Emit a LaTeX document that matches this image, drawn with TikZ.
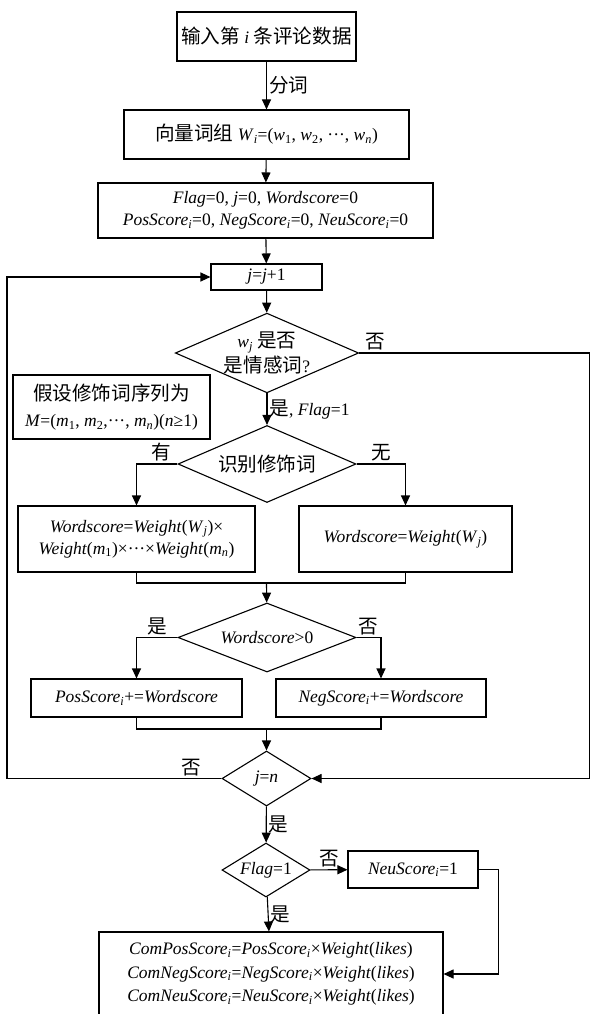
\documentclass[tikz,border=0pt]{standalone}
\usepackage{fontspec}
\setmainfont{Liberation Serif}
\newfontfamily\cjk[Scale=1.12]{Noto Sans CJK SC}
\usetikzlibrary{shapes.geometric,arrows.meta}
\newcommand\sub[1]{\textsubscript{#1}}
\begin{document}
\begin{tikzpicture}[x=1pt,y=-1pt,>={Triangle[length=10pt,width=9pt]},line width=1.1pt,
	every node/.style={font=\fontsize{17.5}{22}\selectfont},
	box/.style={draw,rectangle,align=center,inner sep=0pt},
	cond/.style={draw,diamond,align=center,inner sep=0pt},
	lbl/.style={inner sep=2pt}]
	\useasboundingbox (0,0) rectangle (591,1014);
	% boxes
	\node[box,minimum width=179,minimum height=49] (input) at (266.5,36.5) {{\cjk 输入第} \textit{i} {\cjk 条评论数据}};
	\node[box,minimum width=285,minimum height=49] (vec) at (266.5,134.5) {{\cjk 向量词组} \textit{W}\sub{\textit{i}}=(\textit{w}\sub{1}, \textit{w}\sub{2}, ···, \textit{w}\sub{\textit{n}})};
	\node[box,minimum width=335,minimum height=55] (init) at (265.5,210.5) {\textit{Flag}=0, \textit{j}=0, \textit{Wordscore}=0\\\textit{PosScore}\sub{\textit{i}}=0, \textit{NegScore}\sub{\textit{i}}=0, \textit{NeuScore}\sub{\textit{i}}=0};
	\node[box,minimum width=111,minimum height=26] (inc) at (266.5,277) {\textit{j}=\textit{j}+1};
	\node[cond,aspect=2.3,minimum width=178,minimum height=76,font=\fontsize{17.5}{25}\selectfont] (senti) at (267,353) {\textit{w}\sub{\textit{j}} {\cjk 是否}\\{\cjk 是情感词}?};
	\node[box,minimum width=197,minimum height=64,font=\fontsize{17.5}{26}\selectfont] (note) at (111.5,407) {{\cjk 假设修饰词序列为}\\\textit{M}=(\textit{m}\sub{1}, \textit{m}\sub{2},···, \textit{m}\sub{\textit{n}})(\textit{n}≥1)};
	\node[cond,aspect=2.3,minimum width=178,minimum height=77] (mod) at (267,464) {{\cjk 识别修饰词}};
	\node[box,minimum width=237,minimum height=66] (wmod) at (136.5,539) {\textit{Wordscore}=\textit{Weight}(\textit{W}\sub{\textit{j}})×\\\textit{Weight}(\textit{m}\sub{1})×···×\textit{Weight}(\textit{m}\sub{\textit{n}})};
	\node[box,minimum width=213,minimum height=66] (wnomod) at (405.5,539) {\textit{Wordscore}=\textit{Weight}(\textit{W}\sub{\textit{j}})};
	\node[cond,aspect=2.5,minimum width=178,minimum height=69] (sign) at (267,637.5) {\textit{Wordscore}>0};
	\node[box,minimum width=211,minimum height=38] (pos) at (136.5,698) {\textit{PosScore}\sub{\textit{i}}+=\textit{Wordscore}};
	\node[box,minimum width=210,minimum height=38] (neg) at (381,698) {\textit{NegScore}\sub{\textit{i}}+=\textit{Wordscore}};
	\node[cond,aspect=1.6,minimum width=89,minimum height=55] (last) at (266.5,778.5) {\textit{j}=\textit{n}};
	\node[cond,aspect=1.6,minimum width=88,minimum height=54] (flag) at (266,870) {\textit{Flag}=1};
	\node[box,minimum width=130,minimum height=37] (neu) at (413,869.5) {\textit{NeuScore}\sub{\textit{i}}=1};
	\node[box,minimum width=344,minimum height=84,font=\fontsize{17.5}{23.5}\selectfont] (out) at (271,974) {\textit{ComPosScore}\sub{\textit{i}}=\textit{PosScore}\sub{\textit{i}}×\textit{Weight}(\textit{likes})\\\textit{ComNegScore}\sub{\textit{i}}=\textit{NegScore}\sub{\textit{i}}×\textit{Weight}(\textit{likes})\\\textit{ComNeuScore}\sub{\textit{i}}=\textit{NeuScore}\sub{\textit{i}}×\textit{Weight}(\textit{likes})};
	% helper points
	\coordinate (rr) at (589.5,500);
	\coordinate (ll) at (7,500);
	\coordinate (m1) at (266.5,583);
	\coordinate (m2) at (266.5,729);
	% connectors
	\draw[->] (input) -- node[lbl,right] {\cjk 分词} (vec);
	\draw[->] (vec) -- (init);
	\draw[->] (init) -- (inc);
	\draw[->] (inc) -- (senti);
	\draw[->] (senti) -- node[lbl,right] {{\cjk 是}, \textit{Flag}=1} (mod);
	\draw[->] (senti.east) -- node[lbl,above,pos=0.07] {\cjk 否} (senti.east -| rr) |- (last.east);
	\draw[->] (mod.west) -| node[lbl,above,pos=0.2] {\cjk 有} (wmod.north);
	\draw[->] (mod.east) -| node[lbl,above,pos=0.25] {\cjk 无} (wnomod.north);
	\draw (wmod.south) |- (m1) -| (wnomod.south);
	\draw[->] (m1) -- (sign);
	\draw[->] (sign.west) -| node[lbl,above,pos=0.25] {\cjk 是} (pos.north);
	\draw[->] (sign.east) -| node[lbl,above,pos=0.25] {\cjk 否} (neg.north);
	\draw (pos.south) |- (m2) -| (neg.south);
	\draw[->] (m2) -- (last);
	\draw[->] (last.west) -| node[lbl,above,pos=0.07] {\cjk 否} (ll) |- (inc.west);
	\draw[->] (last) -- node[lbl,right] {\cjk 是} (flag);
	\draw[->] (flag) -- node[lbl,above] {\cjk 否} (neu);
	\draw[->] (flag) -- node[lbl,right] {\cjk 是} (out);
	\draw[->] (neu.east) -- ++(20,0) |- (out.east);
\end{tikzpicture}
\end{document}
